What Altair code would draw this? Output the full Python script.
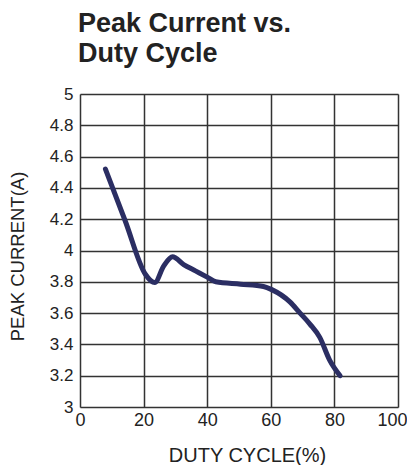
import altair as alt
import pandas as pd

duty_cycle = [8.0, 14.2, 20.5, 23.5, 26.3, 29.1, 32.6, 36.3, 40.0, 42.7, 50.5, 57.7, 60.3, 66.1, 69.2, 72.3, 75.4, 78.5, 81.8]
peak_current = [4.52, 4.19, 3.85, 3.795, 3.90, 3.96, 3.91, 3.87, 3.83, 3.80, 3.785, 3.77, 3.75, 3.67, 3.60, 3.53, 3.445, 3.30, 3.20]

x_ticks = [0, 20, 40, 60, 80, 100]
y_ticks = [3, 3.2, 3.4, 3.6, 3.8, 4, 4.2, 4.4, 4.6, 4.8, 5]

df = pd.DataFrame({"duty": duty_cycle, "current": peak_current})

FONT = "Liberation Sans"
TXT = "#222222"

chart = (
    alt.Chart(df)
    .mark_line(color="#2b2e63", strokeWidth=5, interpolate="monotone", strokeCap="round", strokeJoin="round")
    .encode(
        x=alt.X(
            "duty:Q",
            scale=alt.Scale(domain=[0, 100], nice=False),
            axis=alt.Axis(
                values=x_ticks,
                title="DUTY CYCLE(%)",
                titleFont=FONT,
                titleFontSize=20,
                titleFontWeight="normal",
                titleColor=TXT,
                titleX=167,
                titleY=54,
                titleBaseline="alphabetic",
                titleAlign="center",
                labelFont=FONT,
                labelFontSize=18,
                labelColor=TXT,
                labelPadding=4,
                labelFlush=False,
                labelOffset=alt.condition("datum.value == 100", alt.value(-6), alt.value(0)),
                ticks=False,
                tickSize=0,
                domain=False,
                grid=True,
                gridColor="#333333",
                gridWidth=1.5,
                format="d",
            ),
        ),
        y=alt.Y(
            "current:Q",
            scale=alt.Scale(domain=[3, 5], nice=False),
            axis=alt.Axis(
                values=y_ticks,
                title="PEAK CURRENT(A)",
                titleFont=FONT,
                titleFontSize=18.5,
                titleFontWeight="normal",
                titleColor=TXT,
                titleAngle=270,
                titleX=-57,
                titleY=162,
                titleBaseline="alphabetic",
                titleAlign="center",
                labelFont=FONT,
                labelFontSize=17,
                labelColor=TXT,
                labelPadding=7,
                labelFlush=False,
                ticks=False,
                tickSize=0,
                domain=False,
                grid=True,
                gridColor="#333333",
                gridWidth=1.5,
                labelExpr="datum.value == 3 || datum.value == 4 || datum.value == 5 ? format(datum.value, 'd') : format(datum.value, '.1f')",
            ),
        ),
    )
    .properties(
        width=318,
        height=313,
        autosize=alt.AutoSizeParams(type="none"),
        padding={"left": 72, "top": 86, "right": 9, "bottom": 58},
        title=alt.TitleParams(
            text=["Peak Current vs.", "Duty Cycle"],
            anchor="start",
            frame="group",
            font=FONT,
            fontSize=27,
            fontWeight="bold",
            color=TXT,
            lineHeight=30,
            offset=17,
            dx=-2,
        ),
    )
    .configure_view(stroke="#222222", strokeWidth=3)
    .configure(background="white")
)

chart.save("out.html", embed_options={"renderer": "svg", "actions": False})
